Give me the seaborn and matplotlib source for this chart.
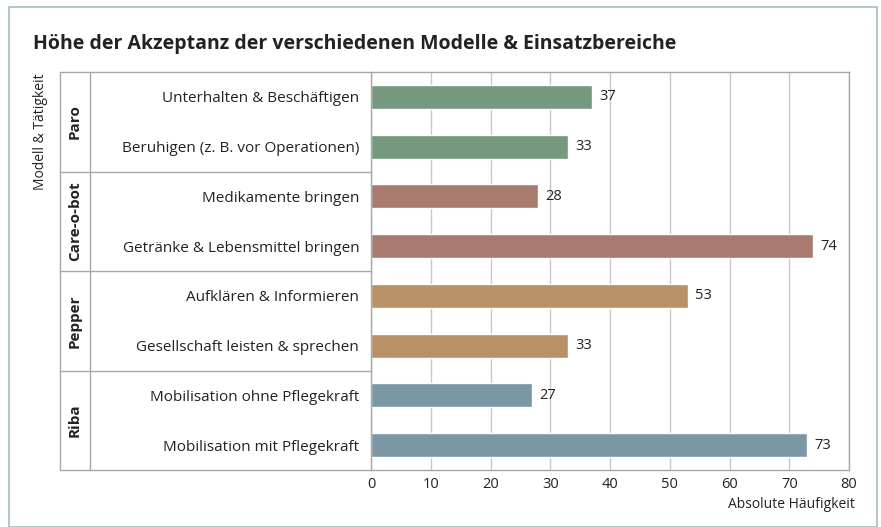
import pandas as pd
import matplotlib.pyplot as plt
import seaborn as sns
from matplotlib.patches import Rectangle

# data
models = ["Paro", "Paro", "Care-o-bot", "Care-o-bot", "Pepper", "Pepper", "Riba", "Riba"]
tasks = [
    "Unterhalten & Beschäftigen",
    "Beruhigen (z. B. vor Operationen)",
    "Medikamente bringen",
    "Getränke & Lebensmittel bringen",
    "Aufklären & Informieren",
    "Gesellschaft leisten & sprechen",
    "Mobilisation ohne Pflegekraft",
    "Mobilisation mit Pflegekraft",
]
counts = [37, 33, 28, 74, 53, 33, 27, 73]
model_order = ["Paro", "Care-o-bot", "Pepper", "Riba"]
model_colors = ["#76987e", "#a97b6f", "#b89266", "#7b97a3"]

df = pd.DataFrame({"Modell": models, "Tätigkeit": tasks, "Anzahl": counts})

sns.set_theme(style="whitegrid")
plt.rcParams["font.family"] = ["Open Sans", "DejaVu Sans"]

W, H = 881, 527
fig = plt.figure(figsize=(W / 100, H / 100), dpi=100)
ax = fig.add_axes([371 / W, (H - 470) / H, (849 - 371) / W, (470 - 72) / H])

sns.barplot(data=df, x="Anzahl", y="Tätigkeit", hue="Modell", hue_order=model_order,
            palette=model_colors, dodge=False, width=0.48, saturation=1,
            legend=False, ax=ax)

for c in ax.containers:
    ax.bar_label(c, padding=5, fontsize=10.5, color="#222222")

line_c = "#a8a8a8"
ax.set_xlim(0, 80)
ax.set_ylim(7.5, -0.5)
ax.set_xticks(range(0, 81, 10))
ax.grid(axis="x", color="#c8c8c8", linewidth=1)
ax.grid(axis="y", visible=False)
ax.tick_params(axis="x", length=2, color="#c8c8c8", labelsize=10.5, pad=3, labelcolor="#222222")
ax.tick_params(axis="y", length=0, labelsize=11, pad=8.5, labelcolor="#222222")
for s in ax.spines.values():
    s.set_color(line_c)
    s.set_linewidth(1)
ax.set_ylabel("")
ax.set_xlabel("")
ax.text((855 - 371) / 478, -34 / 398, "Absolute Häufigkeit", transform=ax.transAxes,
        ha="right", va="center", fontsize=10, color="#222222")

# table on the left
tr = ax.get_yaxis_transform()
x_out = (60 - 371) / 478
x_mid = (90 - 371) / 478
for b in [-0.5, 1.5, 3.5, 5.5, 7.5]:
    ax.plot([x_out, 0], [b, b], transform=tr, color=line_c, lw=1, clip_on=False)
for xv in [x_out, x_mid]:
    ax.plot([xv, xv], [-0.5, 7.5], transform=tr, color=line_c, lw=1, clip_on=False)
for i, m in enumerate(model_order):
    ax.text((x_out + x_mid) / 2, 2 * i + 0.5, m, transform=tr, rotation=90,
            ha="center", va="center", fontsize=11, fontweight="bold", color="#222222")

fig.text(40 / W, 1 - 73 / H, "Modell & Tätigkeit", rotation=90, ha="center", va="top",
         fontsize=10, color="#222222")
fig.text(33 / W, 1 - 44 / H, "Höhe der Akzeptanz der verschiedenen Modelle & Einsatzbereiche",
         ha="left", va="center", fontsize=14, fontweight="bold", color="#222222")

fig.add_artist(Rectangle((9 / W, 0), (877 - 9) / W, 1 - 7 / H, transform=fig.transFigure,
                         fill=False, edgecolor="#a9bfae", lw=1.2))

fig.savefig("out.png", dpi=100)
